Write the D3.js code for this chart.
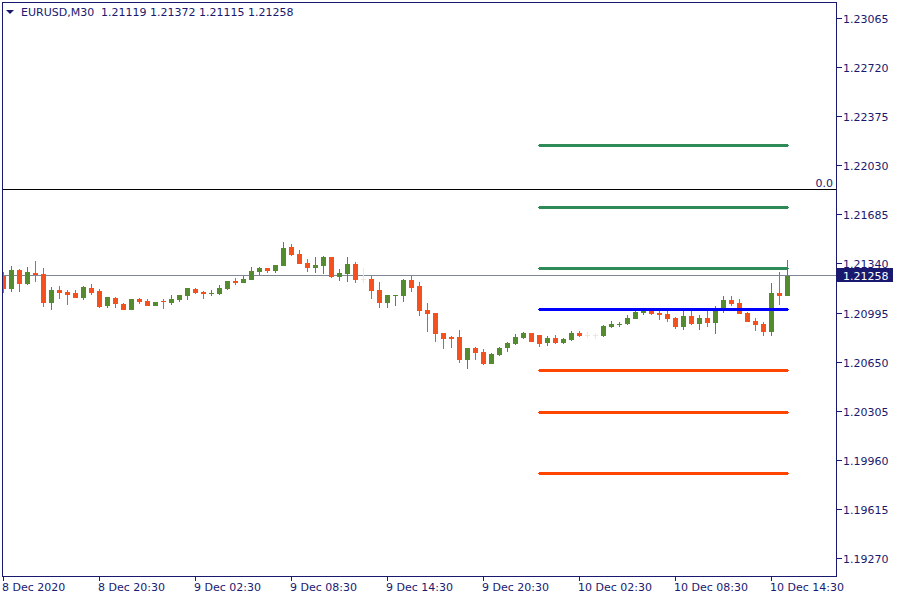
<!DOCTYPE html>
<html>
<head>
<meta charset="utf-8">
<script src="https://cdn.jsdelivr.net/npm/d3@7"></script>
<style>
  html, body { margin: 0; padding: 0; background: #ffffff; }
  svg { display: block; }
  text { font-family: "DejaVu Sans", Verdana, sans-serif; font-size: 11px; }
</style>
</head>
<body>
<svg id="chart" width="900" height="600"></svg>
<script>
// ---------- DATA (EURUSD, M30, bar index 0 = 8 Dec 14:30) ----------
const opens = [
  1.21259,1.21167,1.21301,1.21202,1.21280,1.21273,1.21069,1.21160,1.21146,1.21139,
  1.21104,1.21174,1.21153,1.21048,1.21104,1.21062,1.21019,1.21097,1.21083,1.21048,
  1.21083,1.21069,1.21090,1.21118,1.21167,1.21146,1.21136,1.21132,1.21167,1.21223,
  1.21209,1.21230,1.21287,1.21315,1.21294,1.21329,1.21463,1.21414,1.21350,1.21315,
  1.21329,1.21392,1.21252,1.21273,1.21343,1.21238,1.21238,1.21160,1.21069,1.21118,
  1.21118,1.21230,1.21188,1.21019,1.20998,1.20858,1.20830,1.20830,1.20668,1.20753,
  1.20725,1.20640,1.20704,1.20753,1.20781,1.20823,1.20858,1.20844,1.20788,1.20823,
  1.20788,1.20809,1.20858,1.20844,1.20844,1.20837,1.20900,1.20918,1.20921,1.20956,
  1.20998,1.21019,1.20998,1.20991,1.20963,1.20900,1.20977,1.20921,1.20963,1.20928,
  1.21012,1.21090,1.21069,1.20998,1.20942,1.20921,1.20865,1.21139,1.21119
];
const highs = [
  1.21287,1.21329,1.21308,1.21322,1.21364,1.21315,1.21181,1.21188,1.21160,1.21160,
  1.21188,1.21202,1.21167,1.21111,1.21111,1.21069,1.21097,1.21104,1.21097,1.21076,
  1.21097,1.21125,1.21125,1.21174,1.21174,1.21153,1.21160,1.21195,1.21223,1.21245,
  1.21259,1.21322,1.21322,1.21315,1.21336,1.21498,1.21484,1.21442,1.21378,1.21392,
  1.21399,1.21392,1.21308,1.21392,1.21357,1.21315,1.21259,1.21216,1.21125,1.21125,
  1.21238,1.21266,1.21216,1.21069,1.20998,1.20858,1.20837,1.20879,1.20753,1.20760,
  1.20746,1.20718,1.20760,1.20795,1.20851,1.20865,1.20858,1.20844,1.20837,1.20844,
  1.20823,1.20872,1.20872,1.20865,1.20858,1.20914,1.20942,1.20935,1.20984,1.21026,
  1.21033,1.21033,1.21012,1.21012,1.20970,1.21012,1.21012,1.20984,1.21019,1.21048,
  1.21118,1.21118,1.21097,1.21005,1.20963,1.20935,1.21209,1.21287,1.21372
];
const lows = [
  1.21139,1.21146,1.21146,1.21195,1.21216,1.21041,1.21019,1.21097,1.21055,1.21104,
  1.21090,1.21125,1.21033,1.21033,1.21033,1.21019,1.21019,1.21062,1.21048,1.21048,
  1.21026,1.21055,1.21076,1.21090,1.21132,1.21097,1.21118,1.21125,1.21160,1.21195,
  1.21209,1.21230,1.21266,1.21280,1.21280,1.21329,1.21399,1.21343,1.21287,1.21280,
  1.21273,1.21245,1.21223,1.21216,1.21209,1.21209,1.21097,1.21033,1.21033,1.21048,
  1.21076,1.21146,1.20977,1.20865,1.20795,1.20746,1.20753,1.20647,1.20605,1.20668,
  1.20633,1.20640,1.20697,1.20725,1.20774,1.20816,1.20795,1.20760,1.20767,1.20781,
  1.20781,1.20802,1.20830,1.20823,1.20816,1.20830,1.20893,1.20900,1.20914,1.20956,
  1.20984,1.20984,1.20949,1.20935,1.20886,1.20879,1.20914,1.20879,1.20900,1.20851,
  1.20998,1.21048,1.20991,1.20935,1.20872,1.20837,1.20837,1.21055,1.21115
];
const closes = [
  1.21167,1.21301,1.21202,1.21287,1.21266,1.21069,1.21160,1.21139,1.21125,1.21104,
  1.21181,1.21139,1.21041,1.21111,1.21062,1.21019,1.21097,1.21076,1.21048,1.21076,
  1.21076,1.21097,1.21125,1.21174,1.21139,1.21132,1.21139,1.21174,1.21223,1.21209,
  1.21238,1.21294,1.21315,1.21294,1.21336,1.21456,1.21407,1.21343,1.21315,1.21336,
  1.21392,1.21252,1.21280,1.21343,1.21230,1.21238,1.21153,1.21069,1.21125,1.21125,
  1.21230,1.21174,1.21012,1.20991,1.20851,1.20816,1.20816,1.20668,1.20753,1.20718,
  1.20640,1.20711,1.20753,1.20788,1.20830,1.20858,1.20795,1.20781,1.20823,1.20788,
  1.20816,1.20858,1.20837,1.20844,1.20844,1.20907,1.20921,1.20921,1.20963,1.21005,
  1.21019,1.20991,1.20984,1.20956,1.20900,1.20977,1.20921,1.20963,1.20928,1.21019,
  1.21090,1.21062,1.20991,1.20935,1.20914,1.20865,1.21139,1.21118,1.21258
];

const symbolTitle = "EURUSD,M30";
const lastOHLC = "1.21119 1.21372 1.21115 1.21258";
const bidPrice = 1.21258;

const priceTicks = [1.23065,1.22720,1.22375,1.22030,1.21685,1.21340,
                    1.20995,1.20650,1.20305,1.19960,1.19615,1.19270];
const priceTickLabels = ["1.23065","1.22720","1.22375","1.22030","1.21685","1.21340",
                         "1.20995","1.20650","1.20305","1.19960","1.19615","1.19270"];

const timeTickIndex = [0,12,24,36,48,60,72,84,96];
const timeTickLabels = ["8 Dec 2020","8 Dec 20:30","9 Dec 02:30","9 Dec 08:30",
                        "9 Dec 14:30","9 Dec 20:30","10 Dec 02:30","10 Dec 08:30","10 Dec 14:30"];

// horizontal level objects
const greenLevels = [1.22172, 1.21737, 1.21308];
const blueLevels = [1.21019];
const orangeLevels = [1.20591, 1.20296, 1.19867];
const levelStartIndex = 67;
const levelEndIndex = 98;
const zeroLevel = 1.21863;
const zeroLabel = "0.0";

// ---------- DRAW ----------
const W = 900, H = 600;
const frame = {left: 2, top: 2, right: 836, bottom: 576};
const navy = "#191970";
const upColor = "#558b2f", downColor = "#f4511e", dojiColor = "#f0e6dc";

const svg = d3.select("#chart");
const x = d3.scaleLinear().domain([0, 98]).range([3, 787]);
const y = d3.scaleLinear().domain([1.19270, 1.23065]).range([559, 19]);
const row = v => Math.round(y(v)) - 1; // pixel row of a 1px line at price v

svg.append("defs").append("clipPath").attr("id", "plot")
  .append("rect").attr("x", frame.left + 1).attr("y", frame.top + 1)
  .attr("width", frame.right - frame.left - 1).attr("height", frame.bottom - frame.top - 1);

const plot = svg.append("g").attr("clip-path", "url(#plot)").attr("shape-rendering", "crispEdges");

// bid line (behind candles)
plot.append("line")
  .attr("x1", frame.left).attr("x2", frame.right)
  .attr("y1", row(bidPrice) + 0.5).attr("y2", row(bidPrice) + 0.5)
  .attr("stroke", "#7f8897").attr("stroke-width", 1);

// candles
const data = opens.map((o, i) => ({i, o, h: highs[i], l: lows[i], c: closes[i]}));
const col = d => d.c > d.o ? upColor : (d.c < d.o ? downColor : dojiColor);

const g = plot.append("g");
g.selectAll("rect.wick").data(data).join("rect")
  .attr("class", "wick")
  .attr("x", d => Math.round(x(d.i)))
  .attr("width", 1)
  .attr("y", d => Math.round(y(d.h)))
  .attr("height", d => Math.max(1, Math.round(y(d.l)) - Math.round(y(d.h))))
  .attr("fill", col);

g.selectAll("rect.body").data(data).join("rect")
  .attr("class", "body")
  .attr("x", d => Math.round(x(d.i)) - 2)
  .attr("width", 5)
  .attr("y", d => {
    const t = Math.round(y(Math.max(d.o, d.c))), b = Math.round(y(Math.min(d.o, d.c)));
    return b - t < 1 ? t - (d.o === d.c ? 0 : 0) : t;
  })
  .attr("height", d => Math.max(1, Math.round(y(Math.min(d.o, d.c))) - Math.round(y(Math.max(d.o, d.c)))))
  .attr("fill", col);

// zero level line (object)
plot.append("line")
  .attr("x1", frame.left).attr("x2", frame.right)
  .attr("y1", row(zeroLevel) + 0.5).attr("y2", row(zeroLevel) + 0.5)
  .attr("stroke", "#000000").attr("stroke-width", 1);

// level lines
function drawLevels(levels, color) {
  const lg = plot.append("g");
  levels.forEach(v => {
    const r = row(v);
    lg.append("rect")
      .attr("x", x(levelStartIndex) - 1).attr("width", x(levelEndIndex) - x(levelStartIndex) + 3)
      .attr("y", r).attr("height", 1).attr("fill", color);
    lg.append("rect")
      .attr("x", x(levelStartIndex)).attr("width", x(levelEndIndex) - x(levelStartIndex) + 1)
      .attr("y", r - 1).attr("height", 3).attr("fill", color);
  });
}
drawLevels(greenLevels, "#2e8b57");
drawLevels(blueLevels, "#0000ff");
drawLevels(orangeLevels, "#ff4500");

// zero label
svg.append("text")
  .attr("x", 833).attr("y", row(zeroLevel) - 2)
  .attr("text-anchor", "end").attr("fill", navy).text(zeroLabel);

// frame
svg.append("rect")
  .attr("x", frame.left + 0.5).attr("y", frame.top + 0.5)
  .attr("width", frame.right - frame.left).attr("height", frame.bottom - frame.top)
  .attr("fill", "none").attr("stroke", navy).attr("stroke-width", 1)
  .attr("shape-rendering", "crispEdges");

// price axis
const pa = svg.append("g").attr("shape-rendering", "crispEdges");
priceTicks.forEach((v, k) => {
  const r = row(v);
  pa.append("line").attr("x1", frame.right).attr("x2", frame.right + 6)
    .attr("y1", r + 0.5).attr("y2", r + 0.5).attr("stroke", navy);
  pa.append("text").attr("x", 843).attr("y", r + 5).attr("fill", navy).text(priceTickLabels[k]);
});

// bid price box
const br = row(bidPrice);
svg.append("rect").attr("x", frame.right + 1).attr("y", br - 7)
  .attr("width", 56).attr("height", 14).attr("fill", navy).attr("shape-rendering", "crispEdges");
svg.append("text").attr("x", 843).attr("y", br + 5).attr("fill", "#ffffff").text(d3.format(".5f")(bidPrice));

// time axis
const ta = svg.append("g").attr("shape-rendering", "crispEdges");
timeTickIndex.forEach((idx, k) => {
  const tx = Math.round(x(idx));
  ta.append("line").attr("x1", tx + 0.5).attr("x2", tx + 0.5)
    .attr("y1", frame.bottom).attr("y2", frame.bottom + 5).attr("stroke", navy);
  ta.append("text").attr("x", tx - 1).attr("y", 591).attr("fill", navy).text(timeTickLabels[k]);
});

// header
svg.append("path").attr("d", "M6,10 L14,10 L10,14 Z").attr("fill", navy);
svg.append("text").attr("x", 21).attr("y", 16).attr("fill", navy).text(symbolTitle);
svg.append("text").attr("x", 101).attr("y", 16).attr("fill", navy).text(lastOHLC);
</script>
</body>
</html>
